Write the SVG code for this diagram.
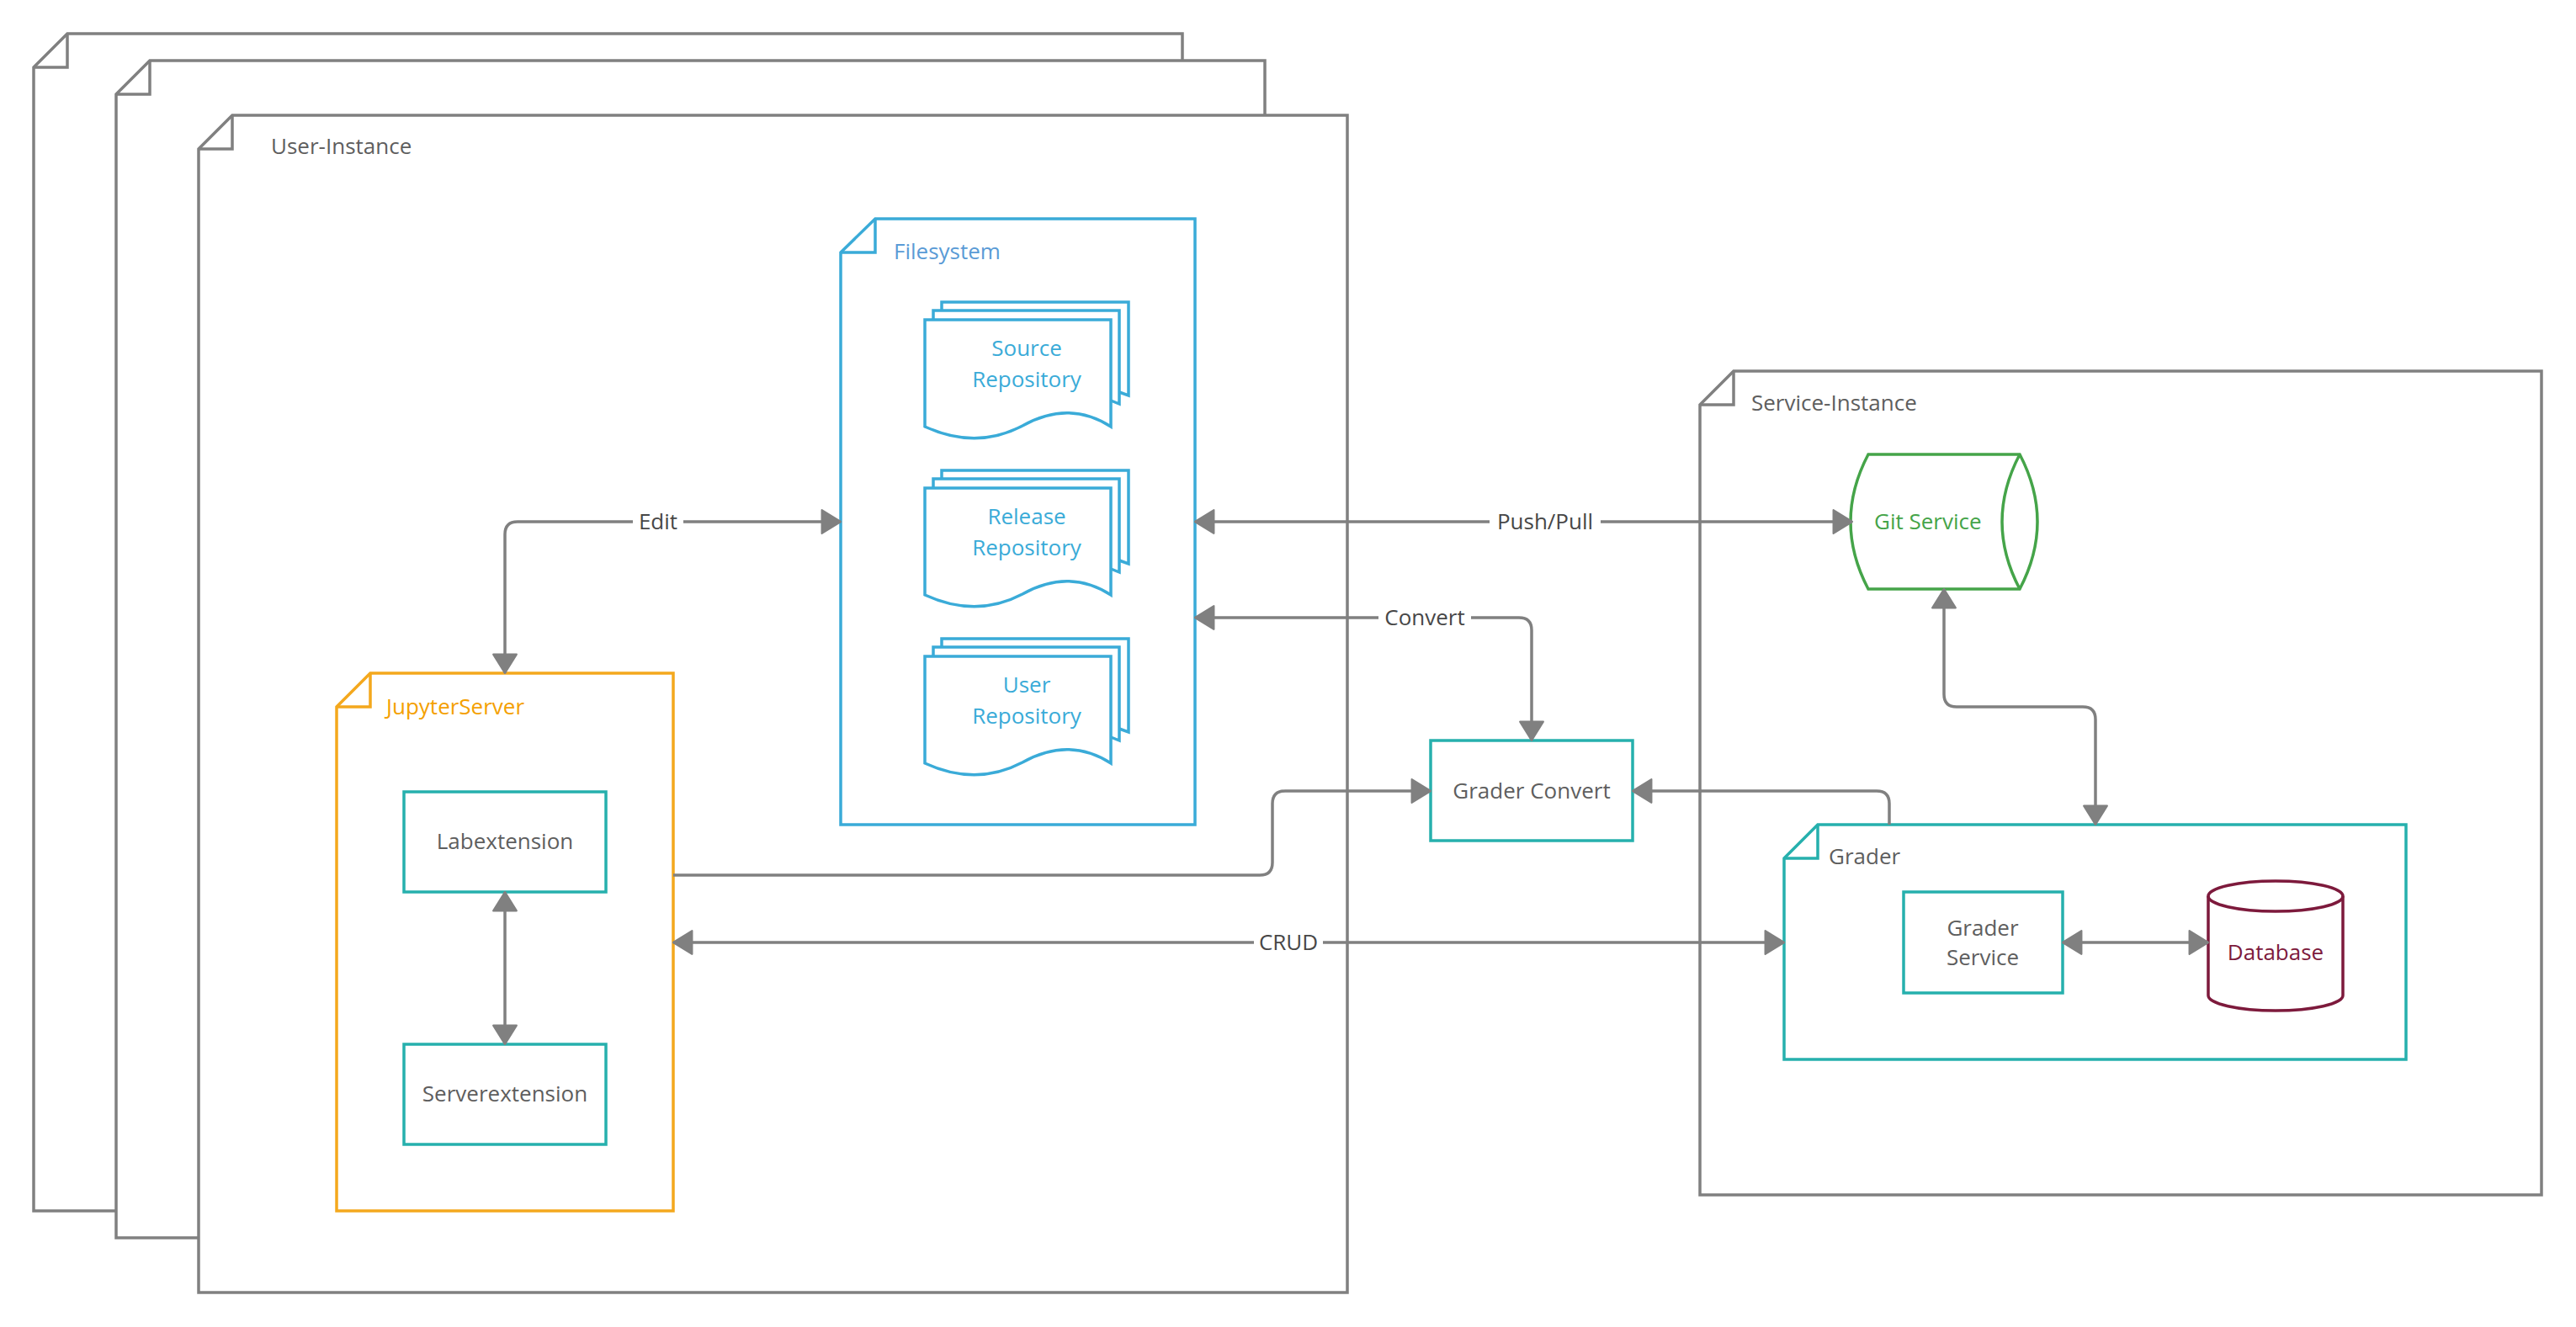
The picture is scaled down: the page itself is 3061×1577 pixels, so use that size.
<svg xmlns="http://www.w3.org/2000/svg" xmlns:xlink="http://www.w3.org/1999/xlink" width="3061" height="1577" viewBox="0 0 3061 1577">
<style>
  text { font-family: "Open Sans", "Noto Sans", "Liberation Sans", sans-serif; font-size: 26px; }
  .frame { fill: #ffffff; stroke: #808080; stroke-width: 3.5; stroke-linejoin: miter; }
  .fold { fill: none; stroke: #808080; stroke-width: 3.5; }
  .fs { fill: #ffffff; stroke: #3aabd8; stroke-width: 3.5; }
  .fsl { fill: none; stroke: #3aabd8; stroke-width: 3.5; }
  .jup { fill: #ffffff; stroke: #f4a81d; stroke-width: 3.5; }
  .jupl { fill: none; stroke: #f4a81d; stroke-width: 3.5; }
  .teal { fill: #ffffff; stroke: #26b0ad; stroke-width: 3.5; }
  .teall { fill: none; stroke: #26b0ad; stroke-width: 3.5; }
  .git { fill: #ffffff; stroke: #45a449; stroke-width: 3.5; }
  .db { fill: #ffffff; stroke: #7d1a3c; stroke-width: 3.5; }
  .conn { fill: none; stroke: #808080; stroke-width: 3.5; }
  .arr2 { marker-start: url(#ah); marker-end: url(#ah); }
  .arr1 { marker-end: url(#ah); }
  .t { fill: #5e5e5e; }
  .lbl { fill: #474747; text-anchor: middle; }
  .c { text-anchor: middle; }
  .repo { fill: #3aabd8; text-anchor: middle; }
</style>
<defs>
  <marker id="ah" markerUnits="userSpaceOnUse" markerWidth="30" markerHeight="32" viewBox="-2 -2 26 30" refX="21" refY="13" orient="auto-start-reverse">
    <path d="M0,0 L21,13 L0,26 Z" fill="#808080" stroke="#808080" stroke-width="2" stroke-linejoin="round"/>
  </marker>
  <g id="stack">
    <path class="fsl" d="M1119,369 V359 H1341 V470 L1330,466"/>
    <path class="fs" d="M1109,380 V369 H1330 V480 L1320,476"/>
    <path class="fs" d="M1099,380 H1320 V507 Q1270,475 1215,506 Q1160,535 1099,507 Z"/>
  </g>
</defs>

<g id="user-instance-3">
  <path class="frame" d="M80,40 H1405 V1439 H40 V80 Z"/>
  <path class="fold" d="M80,40 V80 H40"/>
</g>
<g id="user-instance-2">
  <path class="frame" d="M178,72 H1503 V1471 H138 V112 Z"/>
  <path class="fold" d="M178,72 V112 H138"/>
</g>
<g id="user-instance">
  <path class="frame" d="M276,137 H1601 V1536 H236 V177 Z"/>
  <path class="fold" d="M276,137 V177 H236"/>
  <text class="t" x="322" y="183">User-Instance</text>
</g>

<g id="service-instance">
  <path class="frame" d="M2060,441 H3020 V1420 H2020 V481 Z"/>
  <path class="fold" d="M2060,441 V481 H2020"/>
  <text class="t" x="2081" y="488">Service-Instance</text>
</g>

<g id="filesystem">
  <path class="fs" d="M1040,260 H1420 V980 H999 V300 Z"/>
  <path class="fsl" d="M1040,260 V300 H999"/>
  <text x="1062" y="308" fill="#5a9bd6">Filesystem</text>
</g>

<g id="source-repository">
  <use xlink:href="#stack"/>
  <text class="repo" x="1220" y="423">Source</text>
  <text class="repo" x="1220" y="460">Repository</text>
</g>
<g id="release-repository">
  <use xlink:href="#stack" transform="translate(0,200)"/>
  <text class="repo" x="1220" y="623">Release</text>
  <text class="repo" x="1220" y="660">Repository</text>
</g>
<g id="user-repository">
  <use xlink:href="#stack" transform="translate(0,400)"/>
  <text class="repo" x="1220" y="823">User</text>
  <text class="repo" x="1220" y="860">Repository</text>
</g>

<g id="jupyterserver">
  <path class="jup" d="M440,800 H800 V1439 H400 V840 Z"/>
  <path class="jupl" d="M440,800 V840 H400"/>
  <text x="459" y="849" fill="#f4a000">JupyterServer</text>
</g>

<g id="labextension">
  <rect class="teal" x="480" y="941" width="240" height="119"/>
  <text class="t c" x="600" y="1009">Labextension</text>
</g>
<g id="serverextension">
  <rect class="teal" x="480" y="1241" width="240" height="119"/>
  <text class="t c" x="600" y="1309">Serverextension</text>
</g>

<g id="grader-convert">
  <rect class="teal" x="1700" y="880" width="240" height="119"/>
  <text class="t c" x="1820" y="949">Grader Convert</text>
</g>

<g id="git-service">
  <path class="git" d="M2220,540 H2400 Q2442,620 2400,700 H2220 Q2178,620 2220,540 Z"/>
  <path fill="none" stroke="#45a449" stroke-width="3.5" d="M2400,540 Q2358,620 2400,700"/>
  <text x="2227" y="629" fill="#45a449">Git Service</text>
</g>

<g id="grader">
  <path class="teal" d="M2160,980 H2859 V1259 H2120 V1020 Z"/>
  <path class="teall" d="M2160,980 V1020 H2120"/>
  <text class="t" x="2173" y="1027">Grader</text>
</g>

<g id="grader-service">
  <rect class="teal" x="2262" y="1060" width="189" height="120"/>
  <text class="t c" x="2356" y="1112">Grader</text>
  <text class="t c" x="2356" y="1147">Service</text>
</g>

<g id="database">
  <path class="db" d="M2624,1065 V1183 A80,18 0 0,0 2784,1183 V1065 A80,18 0 0,0 2624,1065 Z"/>
  <path fill="none" stroke="#7d1a3c" stroke-width="3.5" d="M2624,1065 A80,18 0 0,0 2784,1065"/>
  <text class="c" x="2704" y="1141" fill="#7d1a3c">Database</text>
</g>

<g id="connectors">
  <path class="conn arr2" d="M600,800 V635 Q600,620 615,620 H999"/>
  <path class="conn arr2" d="M1420,620 H2201"/>
  <path class="conn arr2" d="M1420,734 H1805 Q1820,734 1820,749 V880"/>
  <path class="conn arr1" d="M800,1040 H1497 Q1512,1040 1512,1025 V955 Q1512,940 1527,940 H1700"/>
  <path class="conn arr1" d="M2245,980 V955 Q2245,940 2230,940 H1940"/>
  <path class="conn arr2" d="M800,1120 H2120"/>
  <path class="conn arr2" d="M2310,700 V825 Q2310,840 2325,840 H2475 Q2490,840 2490,855 V980"/>
  <path class="conn arr2" d="M600,1060 V1241"/>
  <path class="conn arr2" d="M2451,1120 H2624"/>
  <rect x="752" y="604" width="60" height="32" fill="#ffffff"/>
  <text class="lbl" x="782" y="629">Edit</text>
  <rect x="1770" y="604" width="132" height="32" fill="#ffffff"/>
  <text class="lbl" x="1836" y="629">Push/Pull</text>
  <rect x="1638" y="718" width="110" height="32" fill="#ffffff"/>
  <text class="lbl" x="1693" y="743">Convert</text>
  <rect x="1490" y="1104" width="82" height="32" fill="#ffffff"/>
  <text class="lbl" x="1531" y="1129">CRUD</text>
</g>
</svg>
